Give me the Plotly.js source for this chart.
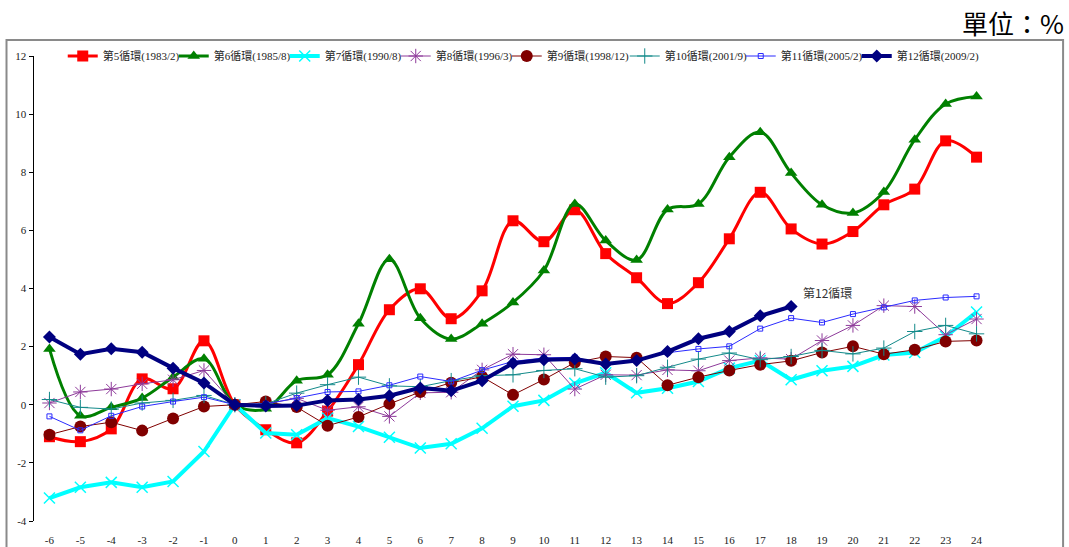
<!DOCTYPE html>
<html>
<head>
<meta charset="utf-8">
<script src="https://cdn.plot.ly/plotly-3.0.1.min.js"></script>
<style>
  html, body { margin: 0; padding: 0; background: #fff; }
  #chart { width: 1069px; height: 547px; }
</style>
</head>
<body>
<div id="chart"></div>
<script>
// Months relative to the cycle trough (0 = trough month)
const months = [-6,-5,-4,-3,-2,-1,0,1,2,3,4,5,6,7,8,9,10,11,12,13,14,15,16,17,18,19,20,21,22,23,24];
const monthLabels = months.map(String);

const cycleNames = [
  '第5循環(1983/2)', '第6循環(1985/8)', '第7循環(1990/8)', '第8循環(1996/3)',
  '第9循環(1998/12)', '第10循環(2001/9)', '第11循環(2005/2)', '第12循環(2009/2)'
];

// Cumulative change from the trough month, %
const cycle5 = [-1.10,-1.27,-0.83,0.89,0.55,2.20,0,-0.86,-1.31,-0.22,1.38,3.27,3.99,2.96,3.92,6.33,5.61,6.71,5.20,4.37,3.48,4.20,5.71,7.31,6.05,5.53,5.96,6.88,7.42,9.08,8.52];
const cycle6 = [1.92,-0.38,-0.09,0.23,0.95,1.58,0,-0.14,0.83,1.03,2.79,5.01,2.98,2.26,2.79,3.52,4.62,6.91,5.65,4.98,6.72,6.91,8.52,9.38,7.97,6.88,6.60,7.32,9.12,10.35,10.61];
const cycle7 = [-3.21,-2.84,-2.67,-2.84,-2.64,-1.61,0,-0.97,-1.03,-0.46,-0.75,-1.12,-1.49,-1.34,-0.81,-0.05,0.15,0.74,1.10,0.41,0.57,0.80,1.26,1.52,0.86,1.17,1.32,1.71,1.80,2.35,3.19];
const cycle8 = [0.06,0.44,0.54,0.72,0.86,1.18,0,0.03,0.22,-0.19,-0.07,-0.40,0.41,0.43,1.20,1.74,1.72,0.54,1.03,1.02,1.20,1.17,1.52,1.61,1.57,2.21,2.73,3.41,3.38,2.41,2.95];
const cycle9 = [-1.03,-0.75,-0.60,-0.89,-0.47,-0.06,0,0.11,-0.08,-0.72,-0.42,0.03,0.44,0.76,0.96,0.34,0.87,1.45,1.66,1.62,0.67,0.95,1.18,1.38,1.51,1.80,2.01,1.74,1.89,2.18,2.21];
const cycle10 = [0.18,-0.09,-0.15,0.06,0.15,0.32,0,0.03,0.40,0.69,0.95,0.65,0.62,0.83,1.00,1.03,1.18,1.24,0.95,1.00,1.29,1.57,1.78,1.55,1.66,1.87,1.75,1.95,2.52,2.73,2.44];
const cycle11 = [-0.40,-0.88,-0.38,-0.06,0.11,0.26,0,0.03,0.23,0.44,0.46,0.67,0.97,0.80,1.19,1.49,1.61,1.63,1.38,1.53,1.79,1.92,2.01,2.62,2.98,2.83,3.12,3.35,3.59,3.69,3.73];
const cycle12 = [2.33,1.74,1.93,1.81,1.26,0.75,0,-0.04,-0.03,0.15,0.18,0.31,0.58,0.48,0.83,1.43,1.55,1.57,1.40,1.52,1.83,2.27,2.52,3.06,3.38];

const yTicks = [-4,-2,0,2,4,6,8,10,12];

const seriesValues = [cycle5, cycle6, cycle7, cycle8, cycle9, cycle10, cycle11, cycle12];

const styles = [
  {color:'#FF0000', width:3, shape:'spline', symbol:'square', size:11, lw:66},
  {color:'#008000', width:3, shape:'spline', symbol:'triangle-up', size:11, lw:66},
  {color:'#00FFFF', width:4, shape:'linear', symbol:'x-thin-open', size:11, mline:1.5, lw:66},
  {color:'#8E3A9A', width:1, shape:'linear', symbol:'asterisk-open', size:12, mline:1, lw:66},
  {color:'#800000', width:1, shape:'linear', symbol:'circle', size:12, lw:73},
  {color:'#138A8A', width:1, shape:'linear', symbol:'cross-thin-open', size:11, mline:1, lw:71},
  {color:'#2B2BFF', width:1, shape:'linear', symbol:'square-open', size:5, mline:1, lw:71},
  {color:'#000080', width:4, shape:'linear', symbol:'diamond', size:10, lw:84}
];

const traces = seriesValues.map((vals, i) => {
  const s = styles[i];
  const marker = {symbol: s.symbol, size: s.size, color: s.color};
  if (s.mline) marker.line = {color: s.color, width: s.mline};
  return {
    type: 'scatter',
    mode: 'lines+markers',
    name: cycleNames[i],
    x: months.slice(0, vals.length),
    y: vals,
    line: {color: s.color, width: s.width, shape: s.shape, smoothing: 1},
    marker: marker,
    legendwidth: s.lw,
    hoverinfo: 'x+y+name'
  };
});

const serif = '"Liberation Serif", "Times New Roman", "Noto Sans CJK TC", serif';
const lastIdx = cycle12.length - 1;

const layout = {
  width: 1069,
  height: 547,
  margin: {l: 34, r: 77, t: 56, b: 26, pad: 0},
  paper_bgcolor: '#ffffff',
  plot_bgcolor: 'rgba(0,0,0,0)',
  showlegend: true,
  font: {family: serif, size: 11, color: '#222'},
  xaxis: {
    range: [-6.5, 24.5],
    tickmode: 'array',
    tickvals: months,
    ticktext: monthLabels,
    showgrid: false,
    zeroline: false,
    showline: false,
    ticks: '',
    ticklabelstandoff: 11,
    tickfont: {family: serif, size: 11, color: '#222'},
    fixedrange: true
  },
  // month boundary ticks along the zero line
  xaxis2: {
    overlaying: 'x',
    anchor: 'free',
    position: 0.25,
    range: [-6.5, 24.5],
    tickmode: 'linear',
    tick0: -6.5,
    dtick: 1,
    ticks: 'inside',
    ticklen: 4,
    tickwidth: 1,
    tickcolor: '#000',
    showticklabels: false,
    showline: true,
    linecolor: '#000',
    linewidth: 1.5,
    showgrid: false,
    zeroline: false,
    fixedrange: true
  },
  yaxis: {
    range: [-4, 12],
    tickmode: 'array',
    tickvals: yTicks,
    ticktext: yTicks.map(String),
    showgrid: false,
    zeroline: false,
    showline: true,
    linecolor: '#000',
    linewidth: 1.5,
    ticks: 'outside',
    ticklen: 4,
    tickcolor: '#000',
    tickfont: {family: serif, size: 11, color: '#222'},
    fixedrange: true
  },
  legend: {
    orientation: 'h',
    x: 0.03,
    xanchor: 'left',
    y: 1.0,
    yanchor: 'middle',
    bgcolor: 'rgba(0,0,0,0)',
    font: {family: serif, size: 11, color: '#222'},
    itemwidth: 30,
    entrywidthmode: 'pixels',
    tracegroupgap: 0
  },
  shapes: [
    {
      type: 'rect', xref: 'paper', yref: 'paper',
      x0: -0.0287, x1: 1.0742, y0: -0.09, y1: 1.0344,
      line: {color: '#8a8a8a', width: 2},
      fillcolor: 'rgba(0,0,0,0)',
      layer: 'below'
    }
  ],
  annotations: [
    {
      xref: 'paper', yref: 'paper', x: 1.077, y: 1.073,
      xanchor: 'right', yanchor: 'middle',
      text: '單位：%', showarrow: false,
      font: {family: '"Noto Sans CJK TC", sans-serif', size: 26, color: '#000'}
    },
    {
      x: months[lastIdx], y: cycle12[lastIdx],
      xanchor: 'left', yanchor: 'middle',
      xshift: 10, yshift: 14,
      text: '第12循環', showarrow: false,
      font: {family: '"Noto Sans CJK TC", "Liberation Sans", sans-serif', size: 12, color: '#333'}
    }
  ]
};

Plotly.newPlot('chart', traces, layout, {staticPlot: true, displayModeBar: false});
</script>
</body>
</html>
